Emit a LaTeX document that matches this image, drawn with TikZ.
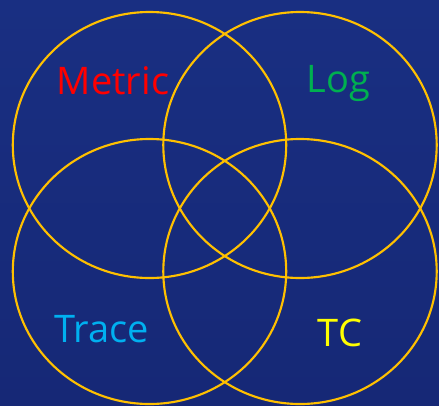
\documentclass[tikz,border=0pt]{standalone}
\usepackage{fontspec}
\setmainfont{Open Sans}
\definecolor{bgtop}{RGB}{25,47,130}
\definecolor{bgbot}{RGB}{22,40,118}
\definecolor{ring}{RGB}{255,192,0}
\definecolor{metricc}{RGB}{255,0,0}
\definecolor{logc}{RGB}{0,176,80}
\definecolor{tracec}{RGB}{0,176,240}
\definecolor{tcc}{RGB}{255,255,0}
\begin{document}
\begin{tikzpicture}[x=0.75pt,y=-0.75pt,
  ringstyle/.style={draw=ring,line width=1.6pt},
  lbl/.style={anchor=base,inner sep=0pt,font=\fontsize{28.5}{30}\selectfont}]
\shade[top color=bgtop,bottom color=bgbot] (0,0) rectangle (439,405);
\useasboundingbox (0,0) rectangle (439,405);
\draw[ringstyle] (149.5,145) ellipse [x radius=136.7, y radius=133];
\draw[ringstyle] (300,145) ellipse [x radius=136.7, y radius=133];
\draw[ringstyle] (149.5,271.5) ellipse [x radius=136.7, y radius=132.5];
\draw[ringstyle] (300,271.5) ellipse [x radius=136.7, y radius=132.5];
\node[lbl,text=metricc] (metric) at (113,94) {Metric};
\node[lbl,text=logc] (log) at (338.5,92) {Log};
\node[lbl,text=tracec] (trace) at (102,342) {Trace};
\node[lbl,text=tcc] (tc) at (340,346) {TC};
\end{tikzpicture}
\end{document}
